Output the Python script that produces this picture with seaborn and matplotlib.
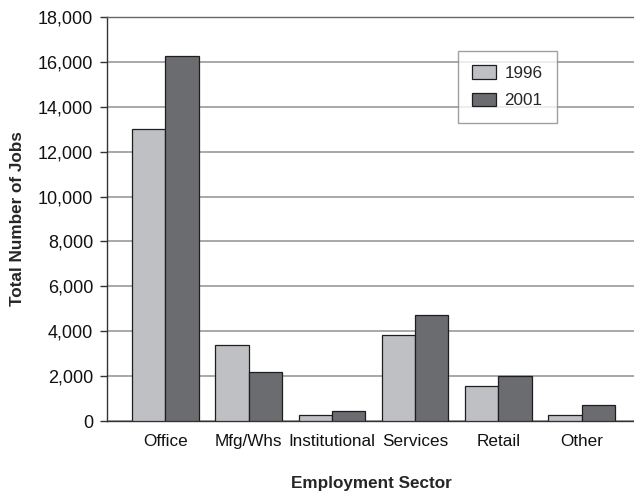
import matplotlib
matplotlib.use("Agg")
import matplotlib.pyplot as plt
import seaborn as sns
import pandas as pd

sectors = ["Office", "Mfg/Whs", "Institutional", "Services", "Retail", "Other"]
years = ["1996", "2001"]
jobs_1996 = [13000, 3400, 270, 3850, 1580, 270]
jobs_2001 = [16250, 2170, 430, 4720, 2010, 700]
y_ticks = [0, 2000, 4000, 6000, 8000, 10000, 12000, 14000, 16000, 18000]

df = pd.DataFrame({
    "Sector": sectors * 2,
    "Year": [years[0]] * len(sectors) + [years[1]] * len(sectors),
    "Jobs": jobs_1996 + jobs_2001,
})

sns.set_style("white")
plt.rcParams["font.family"] = ["Liberation Sans", "DejaVu Sans"]
plt.rcParams["font.size"] = 12.3

fig = plt.figure(figsize=(6.34, 4.92), dpi=100)
ax = fig.add_axes([0.169, 0.1443, 0.835, 0.8211])

sns.barplot(data=df, x="Sector", y="Jobs", hue="Year", order=sectors,
            hue_order=years, palette=["#bfc0c4", "#6b6c70"], width=0.8,
            edgecolor="#1e1e1e", linewidth=0.9, saturation=1, ax=ax, zorder=3)

ax.set_ylim(0, 18000)
ax.set_xlim(-0.70, 5.66)
ax.set_yticks(y_ticks)
ax.set_yticklabels([f"{v:,}" for v in y_ticks])
ax.yaxis.grid(True, color="#a8a8a8", linewidth=1.4, zorder=0)
ax.set_axisbelow(True)

for side in ["left", "bottom", "top"]:
    ax.spines[side].set_visible(True)
    ax.spines[side].set_color("#333333")
    ax.spines[side].set_linewidth(1.0)
ax.spines["top"].set_color("#666666")
ax.spines["right"].set_visible(False)

ax.tick_params(axis="y", left=True, length=5, width=1, color="#333333",
               pad=5, labelsize=13, labelcolor="#111111")
ax.tick_params(axis="x", bottom=False, pad=6, labelsize=12.3,
               labelcolor="#111111")

ax.set_xlabel("Employment Sector", fontweight="bold", fontsize=12.3,
              labelpad=19)
ax.set_ylabel("Total Number of Jobs", fontweight="bold", fontsize=12.3,
              labelpad=9)

leg = ax.legend(loc="upper left", bbox_to_anchor=(0.662, 0.916),
                borderaxespad=0, fancybox=False, frameon=True,
                edgecolor="#888888", fontsize=12.3, handlelength=1.4,
                handleheight=0.8, handletextpad=0.5, labelspacing=0.7,
                borderpad=0.85, title=None)
leg.get_frame().set_linewidth(1.0)
for h in leg.legend_handles:
    h.set_edgecolor("#1e1e1e")
    h.set_linewidth(0.9)

fig.savefig("out.png", dpi=100)
